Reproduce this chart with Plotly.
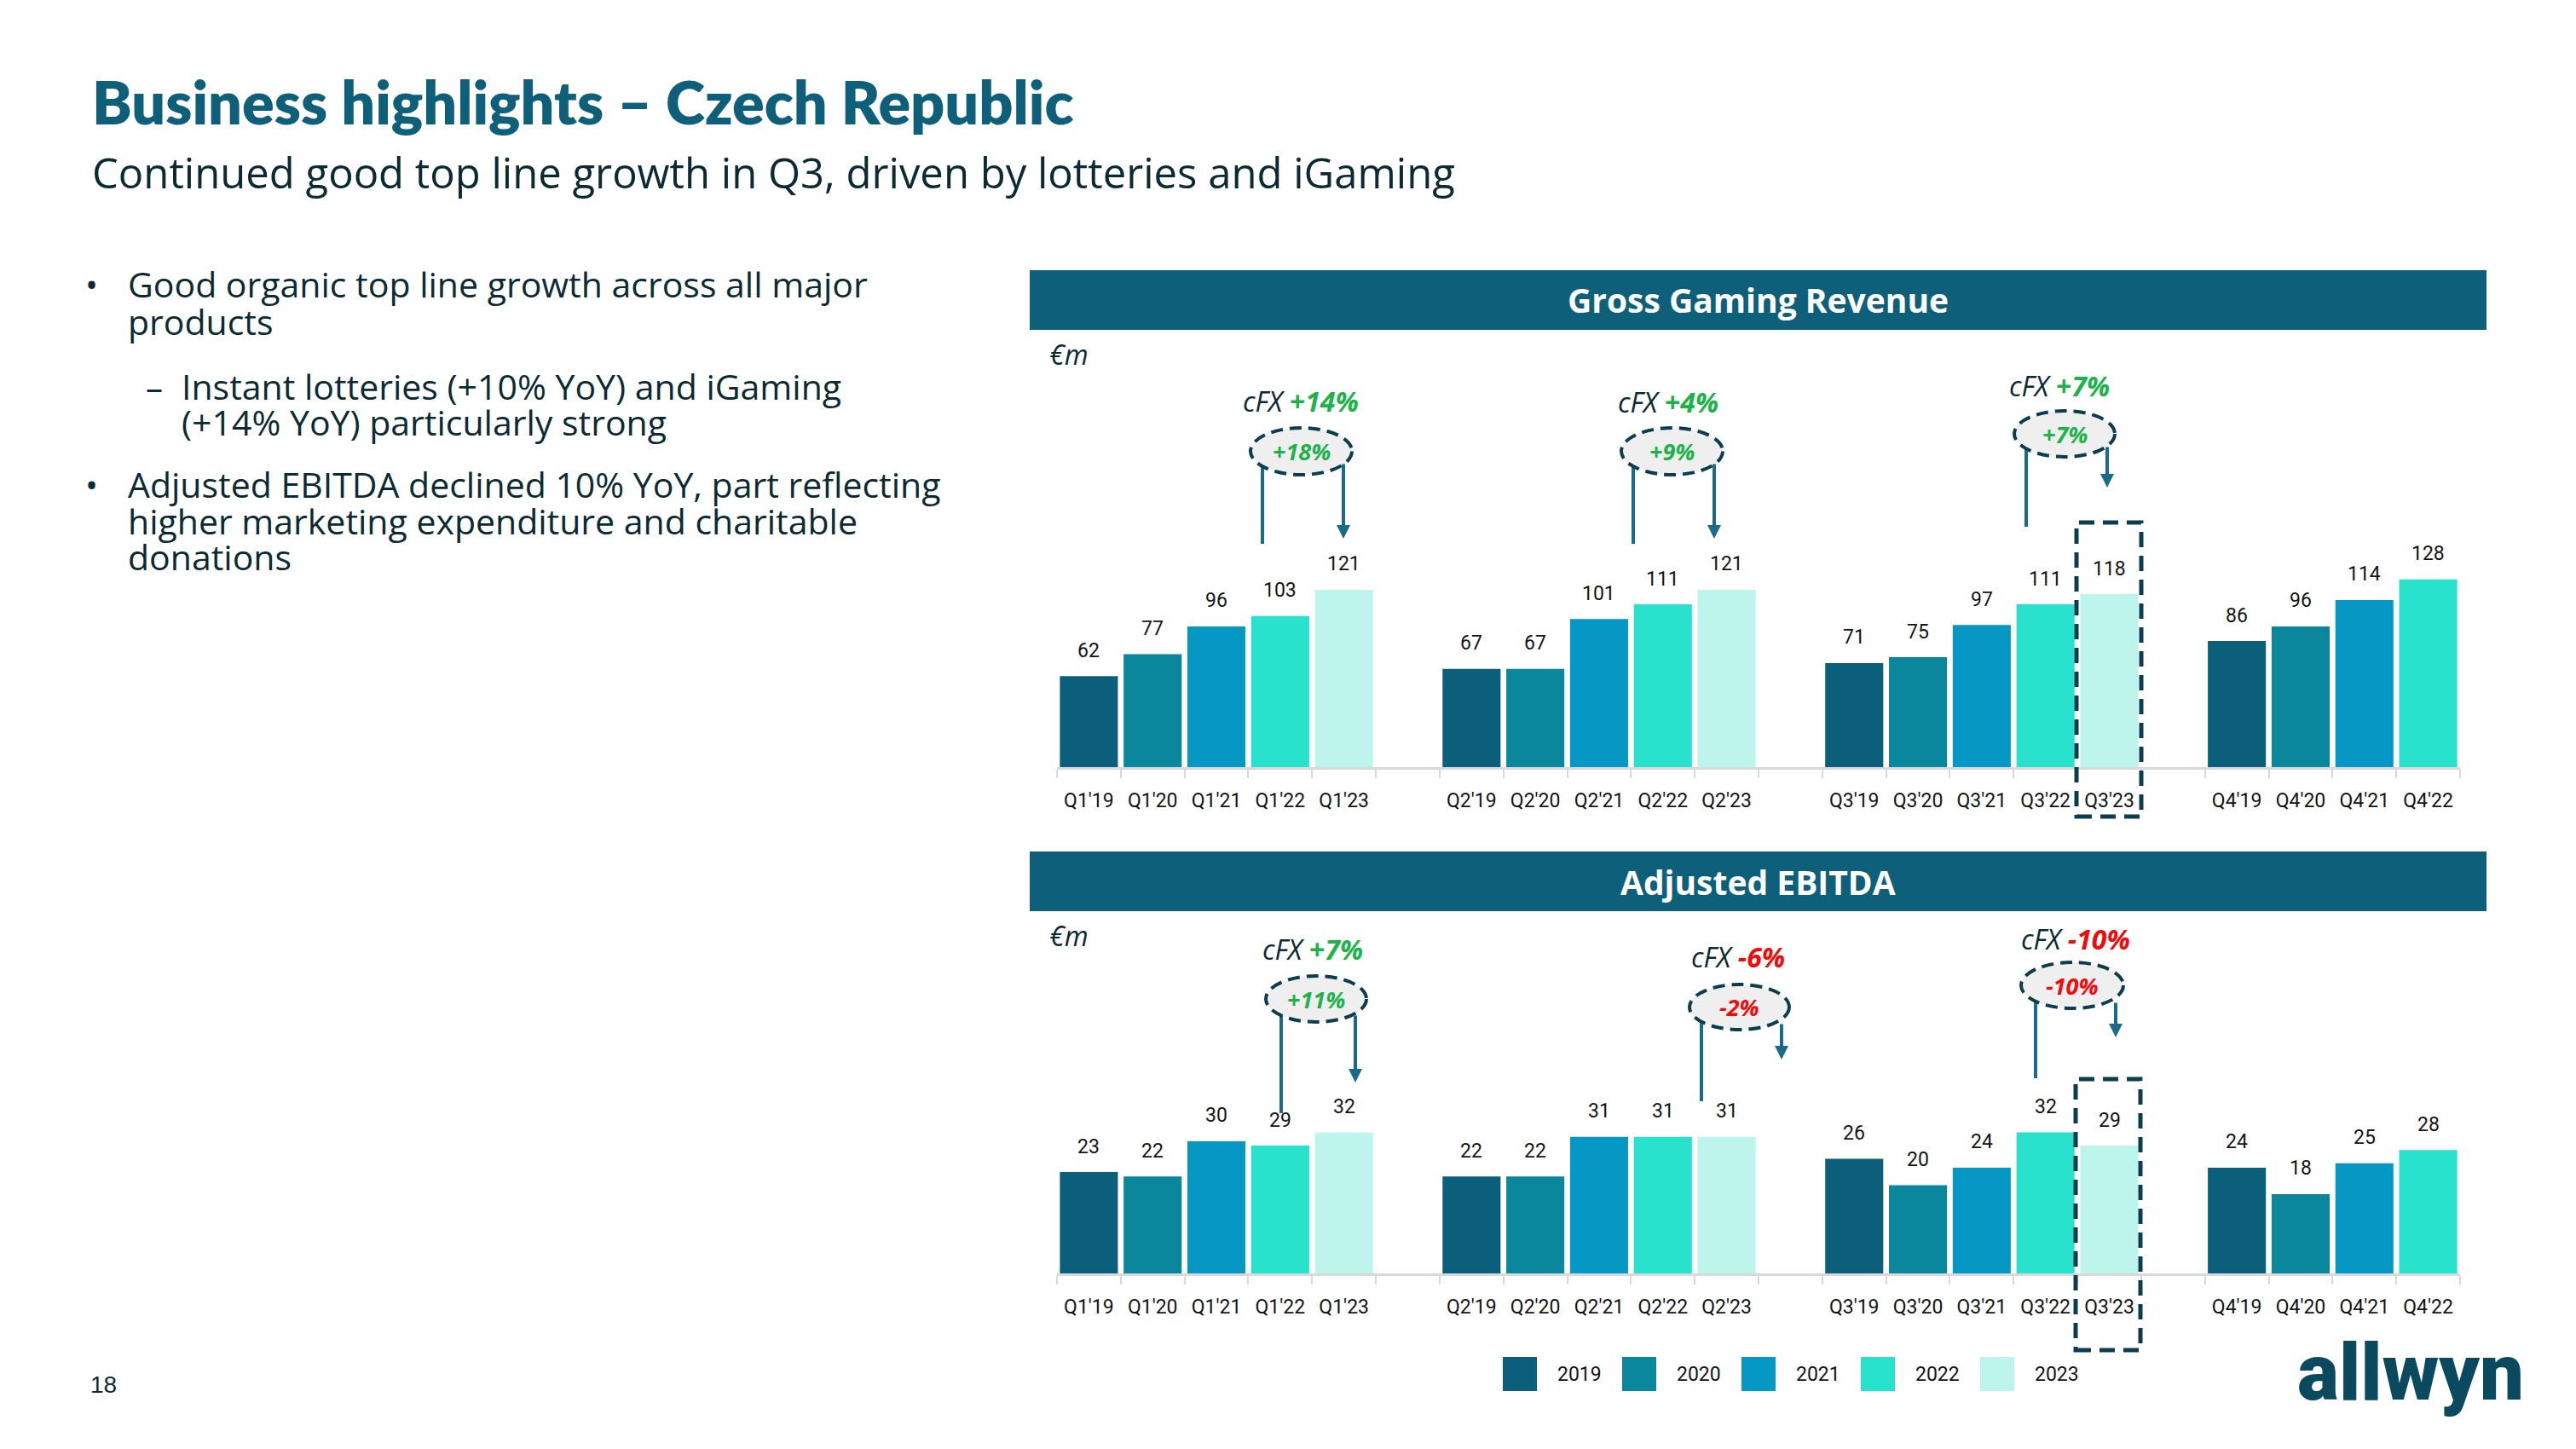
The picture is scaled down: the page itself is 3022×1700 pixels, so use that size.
import plotly.graph_objects as go

W, H = 3022, 1700

# ---------------- data ----------------
years = ["2019", "2020", "2021", "2022", "2023"]
quarters = ["Q1", "Q2", "Q3", "Q4"]

ggr_2019 = [62, 67, 71, 86]
ggr_2020 = [77, 67, 75, 96]
ggr_2021 = [96, 101, 97, 114]
ggr_2022 = [103, 111, 111, 128]
ggr_2023 = [121, 121, 118]

ebitda_2019 = [23, 22, 26, 24]
ebitda_2020 = [22, 22, 20, 18]
ebitda_2021 = [30, 31, 24, 25]
ebitda_2022 = [29, 31, 32, 28]
ebitda_2023 = [32, 31, 29]

ggr_cfx = ["+14%", "+4%", "+7%"]
ggr_yoy = ["+18%", "+9%", "+7%"]
ebitda_cfx = ["+7%", "-6%", "-10%"]
ebitda_yoy = ["+11%", "-2%", "-10%"]

bullets = [
    ("dot", "Good organic top line growth across all major"),
    ("cont", "products"),
    ("dash", "Instant lotteries (+10% YoY) and iGaming"),
    ("subcont", "(+14% YoY) particularly strong"),
    ("dot", "Adjusted EBITDA declined 10% YoY, part reflecting"),
    ("cont", "higher marketing expenditure and charitable"),
    ("cont", "donations"),
]

ggr = [ggr_2019, ggr_2020, ggr_2021, ggr_2022, ggr_2023]
ebitda = [ebitda_2019, ebitda_2020, ebitda_2021, ebitda_2022, ebitda_2023]

# ---------------- style ----------------
colors = ["#0C5F7B", "#0A879C", "#0598C5", "#29E2CE", "#BDF4EC"]
HEAD = "#0E5F7A"
TXT = "#0B2A33"
NUM = "#141414"
GRID = "#D9D9D9"
GREEN = "#1DB34A"
RED = "#F20A0A"
ARROW = "#1B6A88"
DASHC = "#0B3D4F"
NUMF = "Roboto, sans-serif"
BODY = "Open Sans, sans-serif"
TITLE = "Lato, sans-serif"


def px(x):
    return x / W


def py(y):
    return 1 - y / H


def A(x, y, text, font, xanchor="center", yanchor="middle", **kw):
    d = dict(x=px(x), y=py(y), xref="paper", yref="paper", text=text, showarrow=False,
             xanchor=xanchor, yanchor=yanchor, font=font)
    d.update(kw)
    return d


def qlabel(q, y):
    return f"{q}'{y[2:]}"


categories, tick_text = [], []
for qi, q in enumerate(quarters):
    for yi, y in enumerate(years):
        if qi < len(ggr[yi]):
            categories.append(qlabel(q, y))
            tick_text.append(qlabel(q, y))
    if qi < len(quarters) - 1:
        categories.append(f"gap{qi}")
        tick_text.append("")

fig = go.Figure()

for yi, y in enumerate(years):
    xs = [qlabel(q, y) for q in quarters[: len(ggr[yi])]]
    fig.add_trace(go.Bar(x=xs, y=ggr[yi], marker=dict(color=colors[yi], line=dict(width=0)),
                         name=y, showlegend=False, xaxis="x", yaxis="y"))
    xs2 = [qlabel(q, y) for q in quarters[: len(ebitda[yi])]]
    fig.add_trace(go.Bar(x=xs2, y=ebitda[yi], marker=dict(color=colors[yi], line=dict(width=0)),
                         name=y, showlegend=False, xaxis="x2", yaxis="y2"))

X_L, X_R = 1240, 2886
GGR_BASE, GGR_TOP, GGR_SCALE = 900, 420, 1.72
EB_BASE, EB_TOP, EB_SCALE = 1494, 1100, 5.17

xcommon = dict(type="category", categoryorder="array", categoryarray=categories,
               tickmode="array", tickvals=categories, ticktext=tick_text,
               range=[-0.5, len(categories) - 0.5], showline=True, linecolor=GRID, linewidth=3,
               ticks="outside", tickson="boundaries", ticklen=10, tickwidth=2, tickcolor=GRID,
               tickfont=dict(family=NUMF, size=23, color=NUM), ticklabelstandoff=16,
               showgrid=False, zeroline=False, fixedrange=True, domain=[px(X_L), px(X_R)])

fig.update_layout(
    width=W, height=H, margin=dict(l=0, r=0, t=0, b=0),
    paper_bgcolor="white", plot_bgcolor="rgba(0,0,0,0)",
    barmode="overlay", bargap=0.09, showlegend=False,
    xaxis=dict(anchor="y", **xcommon),
    xaxis2=dict(anchor="y2", **xcommon),
    yaxis=dict(domain=[py(GGR_BASE), py(GGR_TOP)], range=[0, (GGR_BASE - GGR_TOP) / GGR_SCALE],
               visible=False, fixedrange=True),
    yaxis2=dict(domain=[py(EB_BASE), py(EB_TOP)], range=[0, (EB_BASE - EB_TOP) / EB_SCALE],
                visible=False, fixedrange=True),
)

ann = []
shapes = []

# data labels
for vals, xr, yr in ((ggr, "x", "y"), (ebitda, "x2", "y2")):
    for yi, y in enumerate(years):
        for qi, v in enumerate(vals[yi]):
            ann.append(dict(x=qlabel(quarters[qi], y), y=v, xref=xr, yref=yr, text=str(v),
                            showarrow=False, yshift=30, xanchor="center", yanchor="middle",
                            font=dict(family=NUMF, size=23, color=NUM)))

# slide title & subtitle
ann.append(A(106, 119, "Business highlights – Czech Republic",
             dict(family=TITLE, size=70, color=HEAD, weight=800), xanchor="left"))
ann.append(A(106, 202, "Continued good top line growth in Q3, driven by lotteries and iGaming",
             dict(family=BODY, size=49, color=TXT), xanchor="left"))

# bullets
bullet_y = [333, 377, 453, 495, 568, 611, 653]
for (kind, text), yy in zip(bullets, bullet_y):
    if kind == "dot":
        ann.append(A(108, yy, "•", dict(family=BODY, size=40, color=TXT)))
    if kind == "dash":
        ann.append(A(181, yy, "–", dict(family=BODY, size=40, color=TXT)))
    xl = 148 if kind in ("dot", "cont") else 211
    ann.append(A(xl, yy, text, dict(family=BODY, size=41, color=TXT), xanchor="left"))

# section headers
for (y0, y1, title) in ((317, 387, "Gross Gaming Revenue"), (999, 1069, "Adjusted EBITDA")):
    shapes.append(dict(type="rect", xref="paper", yref="paper", x0=px(1208), x1=px(2917),
                       y0=py(y1), y1=py(y0), fillcolor=HEAD, line=dict(width=0), layer="below"))
    ann.append(A(2062, (y0 + y1) / 2, title, dict(family=BODY, size=39, color="white", weight="bold")))

for yy in (415, 1097):
    ann.append(A(1229, yy, "<i>€m</i>", dict(family=BODY, size=32, color=TXT), xanchor="left"))

# growth callouts (pixel geometry)
ggr_geo = [
    dict(t=(1526, 470), e=(1467, 502, 1586, 557), l=(1481, 543, 638), a=(1576, 543, 632)),
    dict(t=(1957, 472), e=(1902, 502, 2021, 557), l=(1916, 543, 638), a=(2011, 543, 632)),
    dict(t=(2416, 452), e=(2363, 482, 2481, 536), l=(2377, 523, 618), a=(2472, 523, 572)),
]
eb_geo = [
    dict(t=(1540, 1113), e=(1485, 1145, 1603, 1199), l=(1503, 1190, 1306), a=(1590, 1190, 1270)),
    dict(t=(2039, 1122), e=(1982, 1155, 2099, 1208), l=(1996, 1200, 1292), a=(2090, 1200, 1243)),
    dict(t=(2435, 1101), e=(2371, 1129, 2491, 1183), l=(2388, 1175, 1265), a=(2482, 1175, 1217)),
]

for geo_list, cfx_list, yoy_list in ((ggr_geo, ggr_cfx, ggr_yoy), (eb_geo, ebitda_cfx, ebitda_yoy)):
    for g, cfx, yoy in zip(geo_list, cfx_list, yoy_list):
        c1 = GREEN if cfx.startswith("+") else RED
        c2 = GREEN if yoy.startswith("+") else RED
        lx, ly0, ly1 = g["l"]
        shapes.append(dict(type="line", xref="paper", yref="paper", x0=px(lx), x1=px(lx),
                           y0=py(ly0), y1=py(ly1), line=dict(color=ARROW, width=4)))
        axx, ay0, ay1 = g["a"]
        ann.append(dict(x=px(axx), y=py(ay1), xref="paper", yref="paper", ax=0, ay=-(ay1 - ay0),
                        text="", showarrow=True, arrowhead=2, arrowsize=0.8, arrowwidth=4,
                        arrowcolor=ARROW, standoff=0, startstandoff=0))
        ex0, ey0, ex1, ey1 = g["e"]
        shapes.append(dict(type="circle", xref="paper", yref="paper", x0=px(ex0), x1=px(ex1),
                           y0=py(ey1), y1=py(ey0), fillcolor="#EFEFEF",
                           line=dict(color=DASHC, width=4, dash="14px,8px")))
        ann.append(A((ex0 + ex1) / 2, (ey0 + ey1) / 2, f"<b><i>{yoy}</i></b>",
                     dict(family=BODY, size=27, color=c2)))
        tx, ty = g["t"]
        ann.append(A(tx, ty, f"<i>cFX </i><b><i><span style='color:{c1}'>{cfx}</span></i></b>",
                     dict(family=BODY, size=32, color=TXT)))

# dashed highlight boxes around Q3'23
for (x0, y0, x1, y1) in ((2436, 613, 2512, 958), (2435, 1266, 2511, 1584)):
    shapes.append(dict(type="rect", xref="paper", yref="paper", x0=px(x0), x1=px(x1),
                       y0=py(y1), y1=py(y0), fillcolor="rgba(0,0,0,0)",
                       line=dict(color=DASHC, width=5, dash="18px,10px")))

# legend
for i, y in enumerate(years):
    x0 = 1763 + i * 140
    shapes.append(dict(type="rect", xref="paper", yref="paper", x0=px(x0), x1=px(x0 + 40),
                       y0=py(1632), y1=py(1592), fillcolor=colors[i], line=dict(width=0)))
    ann.append(A(x0 + 62, 1612, y, dict(family=NUMF, size=23, color=NUM), xanchor="left"))

# page number and logo
ann.append(A(121, 1624, "18", dict(family="Liberation Sans, Arial, sans-serif", size=28, color=TXT)))
ann.append(A(2828, 1610, "allwyn", dict(family=NUMF, size=92, color="#0B4A5E", weight=900)))

fig.update_layout(annotations=ann, shapes=shapes)
fig.write_html("out.html")
